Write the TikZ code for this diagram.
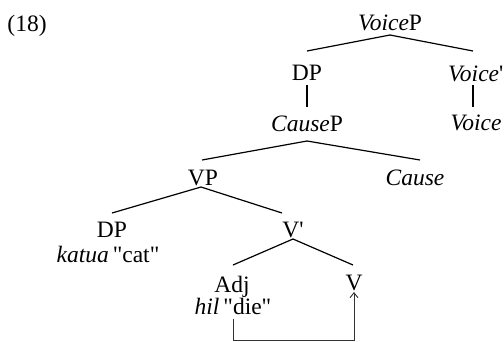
\documentclass[tikz,border=0pt]{standalone}
\usepackage{fontspec}
\setmainfont{Liberation Serif}
\usetikzlibrary{calc,arrows.meta}
\begin{document}
\begin{tikzpicture}[x=1pt,y=-1pt,
  lbl/.style={anchor=base,inner sep=0pt,font=\fontsize{23.5}{28}\selectfont},
  branch/.style={line width=1.2pt},
  move/.style={line width=0.9pt,draw=black!80}]
\useasboundingbox (0,0) rectangle (504,341);
% labels
\node[lbl] (ex) at (27,31) {(18)};
\node[lbl] (VoiceP) at (390,30) {\textit{Voice}P};
\node[lbl] (DPa) at (307,80) {DP};
\node[lbl,anchor=base west] (Voicebar) at (448,81) {\textit{Voice}\textquotesingle};
\node[lbl] (CauseP) at (307,131) {\textit{Cause}P};
\node[lbl] (Voice) at (476,130) {\textit{Voice}};
\node[lbl] (VP) at (203,185) {VP};
\node[lbl] (Cause) at (415,185) {\textit{Cause}};
\node[lbl] (DPb) at (112,237) {DP};
\node[lbl] (katua) at (108,262) {\textit{katua}\,\textquotedbl cat\textquotedbl};
\node[lbl] (Vbar) at (293,237) {V\textquotesingle};
\node[lbl] (Adj) at (232,292) {Adj};
\node[lbl] (hil) at (233,314) {\textit{hil}\,\textquotedbl die\textquotedbl};
\node[lbl] (V) at (354,290) {V};
% branches
\draw[branch] ($(VoiceP.base)+(0,5)$) -- ($(DPa.base)+(0,-29)$);
\draw[branch] ($(VoiceP.base)+(0,5)$) -- ($(Voicebar.base west)+(25,-30)$);
\draw[branch] ($(DPa.base)+(0,5)$) -- ($(CauseP.base)+(0,-24)$);
\draw[branch] ($(Voicebar.base west)+(25,4)$) -- ($(Voice.base)+(-3,-23)$);
\draw[branch] ($(CauseP.base)+(0,10)$) -- ($(VP.base)+(-1,-25)$);
\draw[branch] ($(CauseP.base)+(0,10)$) -- ($(Cause.base)+(5,-25)$);
\draw[branch] ($(VP.base)+(-2,2)$) -- ($(DPb.base)+(0,-24)$);
\draw[branch] ($(VP.base)+(-2,2)$) -- ($(Vbar.base)+(-11,-24)$);
\draw[branch] ($(Vbar.base)+(0,2)$) -- ($(Adj.base)+(1,-27)$);
\draw[branch] ($(Vbar.base)+(0,2)$) -- ($(V.base)+(-1,-25)$);
% movement
\draw[move,-{Straight Barb[length=5pt,width=8pt]}] ($(hil.base)+(0,5)$) -- ($(hil.base)+(0,26)$) -| ($(V.base)+(0,2)$);
\end{tikzpicture}
\end{document}
